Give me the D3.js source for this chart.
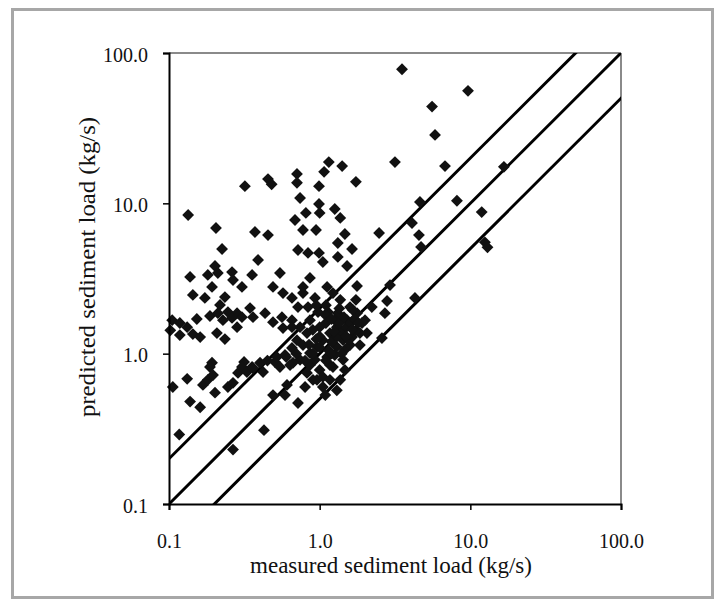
<!DOCTYPE html>
<html>
<head>
<meta charset="utf-8">
<script src="https://cdn.jsdelivr.net/npm/d3@7"></script>
<style>
  body { margin: 0; background: #fff; }
  svg text { font-family: "Liberation Serif", "Times New Roman", "DejaVu Serif", serif !important; fill: #111; }
</style>
</head>
<body>
<div id="chart"></div>
<script>
// measured vs predicted sediment load, log-log, with 1:1, 2:1 and 1:2 lines

const measured = [
  3.52, 9.65, 5.57, 5.83, 3.16, 6.79, 16.7, 1.41, 1.15, 1.07, 1.74, 0.707, 0.707, 0.454, 0.48, 0.319,
  0.99, 0.741, 0.134, 0.99, 1.0, 1.26, 0.81, 4.63, 8.15, 11.9, 1.37, 0.686, 0.775, 0.946, 0.205, 0.372,
  0.454, 2.48, 4.10, 4.56, 4.71, 12.5, 13.0, 1.47, 1.32, 1.64, 0.225, 0.718, 0.837, 0.99, 1.32, 1.05,
  1.52, 0.39, 0.138, 0.202, 0.181, 0.211, 0.262, 0.266, 0.305, 0.356, 0.545, 0.193, 0.144, 0.173, 0.235, 0.218,
  0.49, 0.571, 0.655, 0.775, 1.77, 2.93, 2.80, 2.71, 4.29, 2.22, 0.862, 0.775, 1.12, 1.225, 0.931, 1.59,
  1.77, 1.91, 2.06, 1.52, 1.30, 1.17, 1.05, 0.96, 0.862, 0.741, 0.665, 1.30, 1.43, 1.12, 1.225, 1.0,
  0.824, 0.903, 1.05, 1.43, 1.64, 0.862, 0.741, 0.655, 0.707, 0.824, 1.0, 0.975, 1.136, 1.32, 0.837, 0.718,
  1.66, 1.85, 2.59, 1.37, 0.80, 0.718, 1.30, 0.105, 0.118, 0.132, 0.153, 0.187, 0.211, 0.246, 0.283, 0.228,
  0.262, 0.305, 0.345, 0.361, 0.434, 0.49, 0.562, 0.283, 0.102, 0.118, 0.144, 0.161, 0.208, 0.235, 0.571, 0.655,
  0.505, 0.589, 0.655, 0.193, 0.315, 0.356, 0.132, 0.106, 0.138, 0.161, 0.202, 0.168, 0.181, 0.196, 0.187, 0.246,
  0.266, 0.287, 0.305, 0.329, 0.361, 0.402, 0.421, 0.117, 0.266, 0.427, 0.49, 0.589, 0.607, 0.545, 0.636, 0.862,
  1.17, 0.96, 1.05, 1.17, 1.47, 1.59, 1.74, 2.0, 1.85, 1.26, 1.09, 0.90, 0.775, 0.931, 1.26, 1.47,
  1.09, 1.74, 1.37,
  1.0, 1.1, 1.2, 1.3, 1.4, 1.5, 1.6, 1.7, 1.15, 1.25, 1.35, 1.45, 1.55, 1.65, 0.95, 0.85,
  0.9, 1.0, 1.1, 1.2, 0.8, 1.4, 1.5, 1.8, 1.2, 1.35, 1.1, 0.95, 0.6, 0.7, 0.45, 0.52
]

const predicted = [
  78, 56, 44, 28.5, 18.8, 17.7, 17.5, 17.7, 18.8, 16.2, 13.9, 15.7, 13.7, 14.5, 13.4, 13.0,
  13.0, 10.85, 8.36, 9.9, 8.63, 9.17, 8.63, 10.2, 10.4, 8.75, 8.0, 7.75, 6.65, 6.65, 6.85, 6.45,
  6.15, 6.35, 7.40, 6.15, 5.12, 5.5, 5.1, 6.25, 5.45, 4.97, 4.97, 4.89, 4.68, 4.68, 4.40, 4.07,
  3.83, 4.20, 3.24, 3.83, 3.34, 3.44, 3.49, 3.09, 2.78, 3.34, 3.44, 2.78, 2.46, 2.35, 2.38, 2.11,
  2.78, 2.53, 2.35, 2.53, 2.82, 2.86, 2.24, 1.86, 2.35, 2.04, 3.19, 2.78, 2.78, 2.53, 2.35, 2.04,
  1.86, 1.60, 1.37, 1.67, 1.50, 1.37, 1.23, 1.11, 1.01, 0.91, 0.87, 1.11, 1.23, 0.95, 0.815, 0.78,
  0.745, 0.67, 0.60, 0.91, 1.29, 1.67, 1.50, 1.67, 1.23, 1.37, 1.50, 1.89, 1.89, 1.86, 2.04, 2.04,
  1.95, 1.37, 1.27, 0.67, 0.60, 0.47, 0.57, 1.67, 1.60, 1.50, 1.70, 1.78, 1.86, 1.89, 1.86, 1.67,
  1.73, 1.75, 2.01, 1.75, 1.86, 1.62, 1.75, 1.50, 1.43, 1.33, 1.35, 1.29, 1.37, 1.25, 1.48, 1.50,
  0.88, 0.98, 1.09, 0.87, 0.88, 0.815, 0.68, 0.60, 0.48, 0.44, 0.55, 0.62, 0.67, 0.72, 0.815, 0.60,
  0.64, 0.745, 0.815, 0.755, 0.80, 0.87, 0.755, 0.29, 0.23, 0.31, 0.53, 0.53, 0.62, 0.815, 0.84, 0.84,
  0.84, 0.67, 0.70, 0.67, 1.06, 1.14, 1.43, 1.67, 1.14, 1.67, 1.81, 1.44, 1.14, 0.91, 0.98, 0.78,
  0.53, 2.28, 2.28,
  1.3, 1.6, 1.2, 1.3, 1.4, 1.5, 1.6, 1.7, 1.05, 1.4, 1.6, 1.75, 1.25, 1.45, 1.25, 1.15,
  1.0, 1.1, 0.9, 1.0, 0.9, 1.0, 1.3, 1.6, 1.7, 2.0, 2.1, 2.1, 0.95, 1.0, 0.9, 0.95
]

// predicted = ratio * measured reference lines
const ratios = [2, 1, 0.5]

const tickValues = [0.1, 1, 10, 100]
const tickLabels = ["0.1", "1.0", "10.0", "100.0"]

const W = 719, H = 599
const margin = { top: 53, left: 169, right: 98, bottom: 95 }
const plotW = W - margin.left - margin.right
const plotH = H - margin.top - margin.bottom

const svg = d3.select("#chart").append("svg")
  .attr("width", W).attr("height", H)

// grey outer frame
svg.append("rect")
  .attr("x", 12.5).attr("y", 9.5)
  .attr("width", 700).attr("height", 588)
  .attr("fill", "#fff").attr("stroke", "#a7a7a7").attr("stroke-width", 3)

const g = svg.append("g")
  .attr("transform", `translate(${margin.left},${margin.top})`)

const x = d3.scaleLog().domain([0.1, 100]).range([0, plotW])
const y = d3.scaleLog().domain([0.1, 100]).range([plotH, 0])

g.append("clipPath").attr("id", "clip")
  .append("rect").attr("width", plotW).attr("height", plotH)

// top and right edges of the plot area are grey
g.append("line").attr("x1", 0).attr("x2", plotW).attr("y1", 0).attr("y2", 0)
  .attr("stroke", "#8a8a8a").attr("stroke-width", 2)
g.append("line").attr("x1", plotW).attr("x2", plotW).attr("y1", 0).attr("y2", plotH)
  .attr("stroke", "#8a8a8a").attr("stroke-width", 2)

// reference lines
const lineGen = d3.line().x(d => x(d[0])).y(d => y(d[1]))
g.append("g").attr("clip-path", "url(#clip)")
  .selectAll("path")
  .data(ratios)
  .join("path")
  .attr("d", r => lineGen([[0.05, 0.05 * r], [200, 200 * r]]))
  .attr("fill", "none").attr("stroke", "#000").attr("stroke-width", 3)

// diamonds
const pts = measured.map((m, i) => [m, predicted[i]])
const diamond = d3.symbol().type(d3.symbolSquare).size(70)
g.append("g")
  .selectAll("path")
  .data(pts)
  .join("path")
  .attr("d", diamond)
  .attr("transform", d => `translate(${x(d[0])},${y(d[1])}) rotate(45)`)
  .attr("fill", "#111")

// axes
const fmt = (d) => tickLabels[tickValues.indexOf(d)]
const labelLen = s => s.replace(".", "").length * 10 + 5

const xAxis = g.append("g")
  .attr("transform", `translate(0,${plotH})`)
  .call(d3.axisBottom(x).tickValues(tickValues).tickFormat(fmt).tickSize(6).tickPadding(26))
xAxis.attr("font-family", null)
xAxis.select(".domain").attr("stroke", "#000").attr("stroke-width", 2)
xAxis.selectAll(".tick line").attr("stroke", "#000").attr("stroke-width", 1.5)
xAxis.selectAll("text")
  .style("font-size", "22px").attr("fill", "#111")
  .attr("dy", 0).attr("y", 44)
  .attr("textLength", d => labelLen(fmt(d))).attr("lengthAdjust", "spacingAndGlyphs")

const yAxis = g.append("g")
  .call(d3.axisLeft(y).tickValues(tickValues).tickFormat(fmt).tickSize(6).tickPadding(15))
yAxis.attr("font-family", null)
yAxis.select(".domain").attr("stroke", "#000").attr("stroke-width", 2)
yAxis.selectAll(".tick line").attr("stroke", "#000").attr("stroke-width", 1.5)
yAxis.selectAll("text")
  .style("font-size", "22px").attr("fill", "#111")
  .attr("dy", 0).attr("y", 8)
  .attr("textLength", d => labelLen(fmt(d))).attr("lengthAdjust", "spacingAndGlyphs")

// axis titles
svg.append("text")
  .attr("x", 391).attr("y", 573)
  .attr("text-anchor", "middle")
  .style("font-size", "24px")
  .attr("textLength", 282).attr("lengthAdjust", "spacingAndGlyphs")
  .text("measured sediment load (kg/s)")

svg.append("text")
  .attr("transform", "translate(95,267) rotate(-90)")
  .attr("text-anchor", "middle")
  .style("font-size", "24px")
  .attr("textLength", 300).attr("lengthAdjust", "spacingAndGlyphs")
  .text("predicted sediment load (kg/s)")
</script>
</body>
</html>
